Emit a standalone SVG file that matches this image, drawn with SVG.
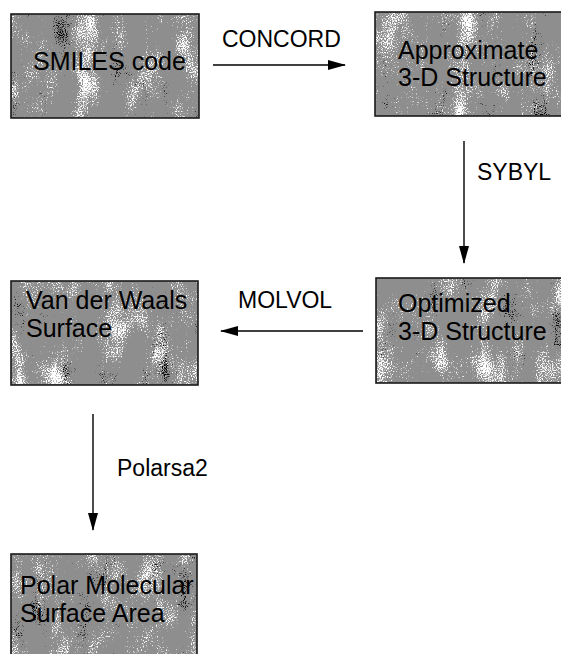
<svg xmlns="http://www.w3.org/2000/svg" width="561" height="654" viewBox="0 0 561 654">
<style>
.box{fill:#8e8e8e;stroke:#1a1a1a;stroke-width:1.6}
.spk{fill:#ffffff;filter:url(#speckle)}
.dk{fill:#000000;filter:url(#dark)}
.t{font-family:"Liberation Sans",Arial,sans-serif;font-size:25px;fill:#000}
.lbl{font-family:"Liberation Sans",Arial,sans-serif;font-size:23px;fill:#000}
.conn{stroke:#000;stroke-width:1.4;fill:none;marker-end:url(#ah)}
</style>
<defs>
<marker id="ah" markerUnits="userSpaceOnUse" markerWidth="18" markerHeight="10" refX="17" refY="5" orient="auto">
<path d="M0,0 L18,5 L0,10 z" fill="#000"/>
</marker>
<filter id="speckle" x="0" y="0" width="100%" height="100%" color-interpolation-filters="sRGB">
<feTurbulence type="fractalNoise" baseFrequency="0.04 0.02" numOctaves="3" seed="4"/>
<feColorMatrix type="matrix" values="1 0 0 0 0  1 0 0 0 0  1 0 0 0 0  0 0 0 0 1" result="low"/>
<feTurbulence type="fractalNoise" baseFrequency="0.8" numOctaves="1" seed="9"/>
<feColorMatrix type="matrix" values="1 0 0 0 0  1 0 0 0 0  1 0 0 0 0  0 0 0 0 1" result="high"/>
<feComposite in="low" in2="high" operator="arithmetic" k1="0" k2="0.5" k3="0.5" k4="0" result="sum"/>
<feColorMatrix in="sum" type="matrix" values="0 0 0 0 1  0 0 0 0 1  0 0 0 0 1  12 0 0 0 -6.8"/>
<feComposite in2="SourceGraphic" operator="in"/>
</filter>
<filter id="dark" x="0" y="0" width="100%" height="100%" color-interpolation-filters="sRGB">
<feTurbulence type="fractalNoise" baseFrequency="0.04 0.02" numOctaves="3" seed="17"/>
<feColorMatrix type="matrix" values="1 0 0 0 0  1 0 0 0 0  1 0 0 0 0  0 0 0 0 1" result="low"/>
<feTurbulence type="fractalNoise" baseFrequency="0.9" numOctaves="1" seed="2"/>
<feColorMatrix type="matrix" values="1 0 0 0 0  1 0 0 0 0  1 0 0 0 0  0 0 0 0 1" result="high"/>
<feComposite in="low" in2="high" operator="arithmetic" k1="0" k2="0.5" k3="0.5" k4="0" result="sum"/>
<feColorMatrix in="sum" type="matrix" values="0 0 0 0 0  0 0 0 0 0  0 0 0 0 0  10 0 0 0 -6.5"/>
<feComposite in2="SourceGraphic" operator="in"/>
</filter>
</defs>
<rect width="561" height="654" fill="#ffffff"/>
<g id="connectors">
<line class="conn" x1="213" y1="65" x2="345" y2="65"/>
<line class="conn" x1="464" y1="141" x2="464" y2="263"/>
<line class="conn" x1="363" y1="331" x2="221" y2="331"/>
<line class="conn" x1="93" y1="414" x2="93" y2="530"/>
<text class="lbl" x="222" y="47">CONCORD</text>
<text class="lbl" x="477" y="180">SYBYL</text>
<text class="lbl" x="238" y="308">MOLVOL</text>
<text class="lbl" x="117" y="476">Polarsa2</text>
</g>
<g id="smiles">
<rect class="box" x="11" y="14" width="188" height="104"/>
<rect class="spk" x="12" y="15" width="186" height="102"/>
<rect class="dk" x="12" y="15" width="186" height="102"/>
<text class="t" x="33" y="70">SMILES code</text>
</g>
<g id="approx">
<rect class="box" x="375" y="12" width="192" height="104"/>
<rect class="spk" x="376" y="13" width="190" height="102"/>
<rect class="dk" x="376" y="13" width="190" height="102"/>
<text class="t" x="398" y="59">Approximate</text>
<text class="t" x="398" y="86">3-D Structure</text>
</g>
<g id="optimized">
<rect class="box" x="376" y="278" width="192" height="105"/>
<rect class="spk" x="377" y="279" width="190" height="103"/>
<rect class="dk" x="377" y="279" width="190" height="103"/>
<text class="t" x="398" y="312">Optimized</text>
<text class="t" x="398" y="340">3-D Structure</text>
</g>
<g id="vdw">
<rect class="box" x="11" y="281" width="187" height="104"/>
<rect class="spk" x="12" y="282" width="185" height="102"/>
<rect class="dk" x="12" y="282" width="185" height="102"/>
<text class="t" x="26" y="309">Van der Waals</text>
<text class="t" x="26" y="337">Surface</text>
</g>
<g id="polar">
<rect class="box" x="11" y="554" width="186" height="104"/>
<rect class="spk" x="12" y="555" width="184" height="102"/>
<rect class="dk" x="12" y="555" width="184" height="102"/>
<text class="t" x="20" y="594">Polar Molecular</text>
<text class="t" x="20" y="622">Surface Area</text>
</g>
</svg>
